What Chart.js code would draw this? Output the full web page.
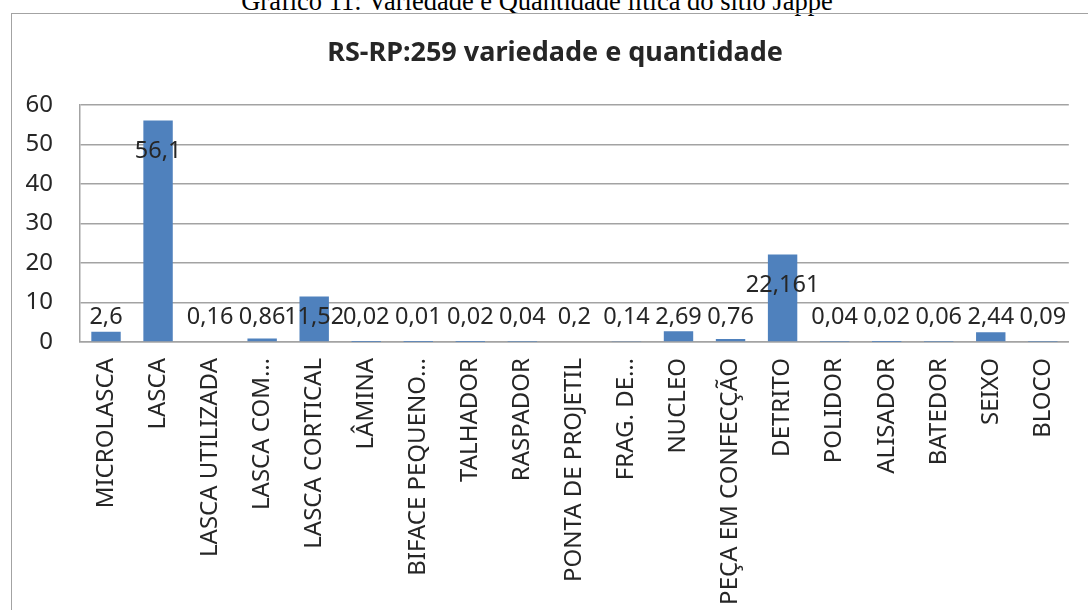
<!DOCTYPE html>
<html>
<head>
<meta charset="utf-8">
<script src="https://cdn.jsdelivr.net/npm/chart.js@4.4.1/dist/chart.umd.min.js"></script>
<style>
  html, body { margin: 0; padding: 0; background: #fff; width: 1088px; height: 610px; overflow: hidden; }
  #caption { position: absolute; left: -7px; width: 1088px; top: -14px; text-align: center;
    font-family: "Liberation Serif", serif; font-size: 26.5px; color: #000; }
  #frame { position: absolute; left: 11px; top: 13px; width: 1200px; height: 800px;
    border: 1.5px solid #a3a3a3; box-sizing: border-box; }
  #wrap { position: absolute; left: 0; top: 0; width: 1088px; height: 610px; }
</style>
</head>
<body>
<div id="caption">Gráfico 11: Variedade e Quantidade lítica do sítio Jappe</div>
<div id="frame"></div>
<div id="wrap"><canvas id="c" width="1088" height="610"></canvas></div>
<script>
const categories = ["MICROLASCA", "LASCA", "LASCA UTILIZADA", "LASCA COM…", "LASCA CORTICAL", "LÂMINA",
  "BIFACE PEQUENO…", "TALHADOR", "RASPADOR", "PONTA DE PROJETIL", "FRAG. DE…", "NUCLEO",
  "PEÇA EM CONFECÇÃO", "DETRITO", "POLIDOR", "ALISADOR", "BATEDOR", "SEIXO", "BLOCO"];
const values = [2.6, 56.1, 0.16, 0.86, 11.52, 0.02, 0.01, 0.02, 0.04, 0.2, 0.14, 2.69, 0.76, 22.161,
  0.04, 0.02, 0.06, 2.44, 0.09];
const yTicks = [0, 10, 20, 30, 40, 50, 60];
const chartTitle = "RS-RP:259 variedade e quantidade";

const FONT = "'Noto Sans', sans-serif";
const TEXT = "#262626";

const labelPlugin = {
  id: "valueLabels",
  afterDatasetsDraw(chart) {
    const ctx = chart.ctx;
    const meta = chart.getDatasetMeta(0);
    const yScale = chart.scales.y;
    const base = yScale.getPixelForValue(0);
    ctx.save();
    ctx.font = "23.5px " + FONT;
    ctx.fillStyle = TEXT;
    ctx.textAlign = "center";
    ctx.textBaseline = "middle";
    meta.data.forEach((bar, i) => {
      const v = values[i];
      const y = Math.min(bar.y + 31, base - 25);
      ctx.fillText(String(v).replace(".", ","), bar.x, y);
    });
    // chart title
    ctx.font = "bold 27px " + FONT;
    ctx.fillText(chartTitle, chart.width / 2 + 11, 53);
    ctx.restore();
  }
};

new Chart(document.getElementById("c"), {
  type: "bar",
  data: {
    labels: categories,
    datasets: [{
      data: values,
      backgroundColor: "#4f81bd",
      borderWidth: 0,
      barPercentage: 0.565,
      categoryPercentage: 1
    }]
  },
  options: {
    responsive: false,
    animation: false,
    layout: { padding: { left: 0, right: 15, top: 105, bottom: 0 } },
    plugins: {
      legend: { display: false },
      tooltip: { enabled: false },
      title: { display: false }
    },
    scales: {
      x: {
        grid: { display: false, drawTicks: false },
        border: { display: true, color: "#a3a3a3", width: 1.5 },
        ticks: {
          color: TEXT,
          font: { family: FONT, size: 24 },
          minRotation: 90, maxRotation: 90,
          padding: 16,
          autoSkip: false
        },
        afterFit(scale) { scale.height = 268; }
      },
      y: {
        min: 0, max: 60,
        afterBuildTicks(scale) { scale.ticks = yTicks.map(v => ({ value: v })); },
        grid: { color: "#a3a3a3", lineWidth: 1.5, drawTicks: false },
        border: { display: true, color: "#a3a3a3", width: 1.5 },
        ticks: {
          color: TEXT,
          font: { family: FONT, size: 24 },
          padding: 27
        },
        afterFit(scale) { scale.width = 80; }
      }
    }
  },
  plugins: [labelPlugin]
});
</script>
</body>
</html>
